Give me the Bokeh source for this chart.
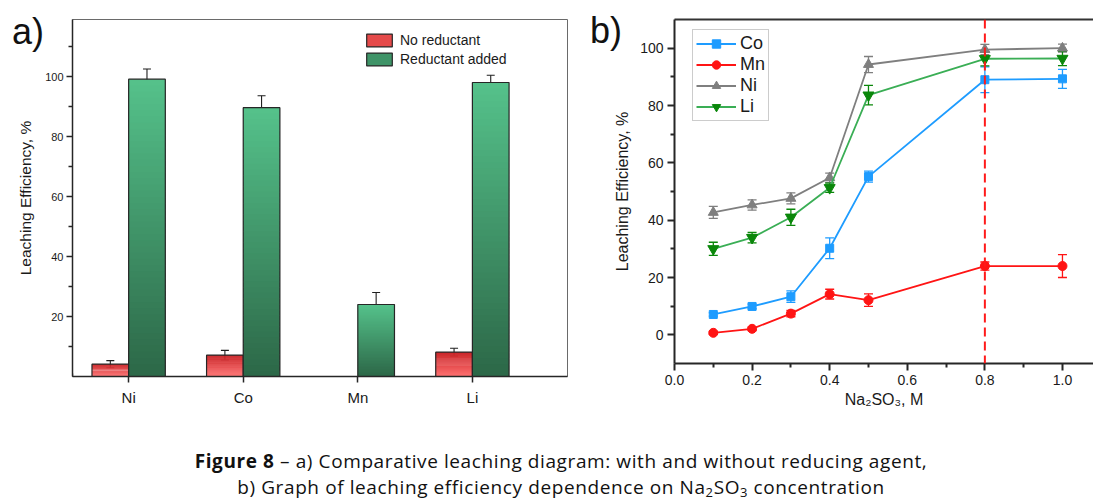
from bokeh.plotting import figure
from bokeh.models import (ColumnDataSource, Whisker, TeeHead, FixedTicker, Legend,
                          LegendItem, Span, LinearAxis, Div, Range1d)
from bokeh.layouts import row, column
from bokeh.embed import file_html
from bokeh.resources import INLINE

# ---------------- data: panel a ----------------
metals = ["Ni", "Co", "Mn", "Li"]
no_reductant = [4.1, 7.1, 0.0, 8.1]
no_reductant_err = [1.2, 1.6, 0.0, 1.3]
reductant_added = [99.1, 89.6, 24.0, 98.0]
reductant_added_err = [3.4, 4.0, 4.0, 2.4]
ya_ticks = [20, 40, 60, 80, 100]
ya_minor = [10, 30, 50, 70, 90, 110]

# ---------------- data: panel b ----------------
conc = [0.1, 0.2, 0.3, 0.4, 0.5, 0.8, 1.0]
co = [7.1, 9.9, 13.3, 30.2, 55.2, 89.0, 89.3]
co_err = [0.6, 0.8, 2.0, 3.6, 1.9, 4.5, 3.3]
mn = [0.7, 2.1, 7.4, 14.2, 12.1, 24.0, 24.0]
mn_err = [0.5, 0.6, 1.1, 1.7, 2.2, 1.4, 4.0]
ni = [42.7, 45.3, 47.6, 54.8, 94.3, 99.5, 100.0]
ni_err = [2.1, 1.8, 1.9, 1.6, 2.8, 1.8, 1.4]
li = [30.0, 33.9, 41.0, 51.3, 83.6, 96.3, 96.4]
li_err = [2.3, 1.8, 2.8, 1.6, 3.4, 2.5, 2.5]
xb_ticks = [0.0, 0.2, 0.4, 0.6, 0.8, 1.0]
xb_minor = [0.1, 0.3, 0.5, 0.7, 0.9]
yb_ticks = [0, 20, 40, 60, 80, 100]
yb_minor = [10, 30, 50, 70, 90]
optimal_conc = 0.8

FONT = "Liberation Sans"
AX = "#262626"


def _rgb(h):
    h = h.lstrip("#")
    return [int(h[i:i + 2], 16) for i in (0, 2, 4)]


def _mix(c0, c1, t):
    a, b = _rgb(c0), _rgb(c1)
    return "#%02x%02x%02x" % tuple(int(round(a[k] + (b[k] - a[k]) * t)) for k in range(3))


def gradient_bars(p, xs, vals, bottom_col, top_col, width, n=48):
    X, B, T, C = [], [], [], []
    for x, v in zip(xs, vals):
        if v <= 0:
            continue
        for i in range(n):
            X.append(x)
            B.append(v * i / n)
            T.append(min(v, v * (i + 1.8) / n))
            C.append(_mix(bottom_col, top_col, (i + 0.5) / n))
    src = ColumnDataSource(dict(x=X, bottom=B, top=T, color=C))
    p.vbar(x="x", bottom="bottom", top="top", width=width, source=src,
           fill_color="color", line_color=None)
    keep = [(x, v) for x, v in zip(xs, vals) if v > 0]
    p.vbar(x=[k[0] for k in keep], top=[k[1] for k in keep], width=width,
           fill_color=None, line_color=AX, line_width=1.2)


def whiskers(p, xs, vals, errs, color, size, lw):
    keep = [(x, v, e) for x, v, e in zip(xs, vals, errs) if v > 0 and e > 0]
    src = ColumnDataSource(dict(x=[k[0] for k in keep],
                                upper=[k[1] + k[2] for k in keep],
                                lower=[k[1] - k[2] for k in keep]))
    w = Whisker(source=src, base="x", upper="upper", lower="lower",
                line_color=color, line_width=lw,
                upper_head=TeeHead(size=size, line_color=color, line_width=lw),
                lower_head=TeeHead(size=size, line_color=color, line_width=lw))
    p.add_layout(w)


def style_axis(ax, tick_size, lw):
    ax.axis_line_color = AX
    ax.axis_line_width = lw
    ax.major_tick_line_color = AX
    ax.major_tick_line_width = lw
    ax.minor_tick_line_color = AX
    ax.minor_tick_line_width = lw
    ax.major_tick_in = 0
    ax.minor_tick_in = 0
    ax.major_label_text_font = FONT
    ax.major_label_text_font_size = tick_size
    ax.major_label_text_color = "#1a1a1a"
    ax.axis_label_text_font = FONT
    ax.axis_label_text_font_style = "normal"
    ax.axis_label_text_color = "#1a1a1a"


# ================= panel a =================
pos = [i + 1 for i in range(len(metals))]
BW = 0.32
pa = figure(frame_width=495, frame_height=357,
            min_border_left=72, min_border_right=11, min_border_top=17, min_border_bottom=46,
            x_range=Range1d(0.51, 4.83), y_range=Range1d(0, 119),
            output_backend="svg", toolbar_location=None)
pa.grid.visible = False
pa.outline_line_color = "#6a6a6a"
pa.outline_line_width = 1

red_x = [x - BW / 2 for x in pos]
green_x = [x + BW / 2 for x in pos]
gradient_bars(pa, red_x, no_reductant, "#ff7373", "#c81f22", BW)
gradient_bars(pa, green_x, reductant_added, "#2c6747", "#55c28b", BW)
whiskers(pa, red_x, no_reductant, no_reductant_err, "#1e1e1e", 8, 1.1)
whiskers(pa, green_x, reductant_added, reductant_added_err, "#1e1e1e", 8, 1.1)

xa = pa.below[0]
ya = pa.left[0]
xa.ticker = FixedTicker(ticks=pos, minor_ticks=[])
xa.major_label_overrides = {float(p_): m for p_, m in zip(pos, metals)}
ya.ticker = FixedTicker(ticks=ya_ticks, minor_ticks=ya_minor)
style_axis(xa, "15px", 1.5)
style_axis(ya, "11px", 1.5)
xa.major_tick_out = 6
xa.major_label_standoff = 6
ya.major_tick_out = 6
ya.minor_tick_out = 4
ya.major_label_standoff = 3
ya.axis_label = "Leaching Efficiency, %"
ya.axis_label_text_font_size = "15.5px"
ya.axis_label_standoff = 8

leg_r1 = pa.vbar(x=[-10], top=[1], width=BW, fill_color="#e54a4a", line_color=AX, line_width=1.2)
leg_r2 = pa.vbar(x=[-10], top=[1], width=BW, fill_color="#3f9468", line_color=AX, line_width=1.2)
leg_a = Legend(items=[LegendItem(label="No reductant", renderers=[leg_r1]),
                      LegendItem(label="Reductant added", renderers=[leg_r2])],
               location=(291, 309), border_line_color=None, background_fill_alpha=0,
               padding=0, margin=0, spacing=3, glyph_width=32, glyph_height=16,
               label_height=16, label_standoff=5, label_text_font=FONT,
               label_text_font_size="14px", label_text_color="#1a1a1a")
pa.add_layout(leg_a)

# ================= panel b =================
pb = figure(frame_width=419, frame_height=344,
            min_border_left=96, min_border_right=0, min_border_top=19, min_border_bottom=57,
            x_range=Range1d(0.0, 1.08), y_range=Range1d(-10, 110),
            output_backend="svg", toolbar_location=None)
pb.grid.visible = False
pb.outline_line_color = None
xb = pb.below[0]
yb = pb.left[0]

top_axis = LinearAxis(ticker=FixedTicker(ticks=[], minor_ticks=[]),
                      major_label_text_font_size="0px", axis_line_color="#333333",
                      axis_line_width=2, major_tick_line_color=None, minor_tick_line_color=None,
                      major_tick_out=0, major_label_standoff=0)
pb.add_layout(top_axis, "above")

series = [
    ("Co", co, co_err, "#1e9cff", "#1e9cff", "square", 8),
    ("Mn", mn, mn_err, "#ff1414", "#ff1414", "circle", 9),
    ("Ni", ni, ni_err, "#7f7f7f", "#7f7f7f", "triangle", 10),
    ("Li", li, li_err, "#3aae55", "#0a870a", "inverted_triangle", 11),
]
items = []
for name, vals, errs, lc, mc, marker, size in series:
    src = ColumnDataSource(dict(x=conc, y=vals))
    lr = pb.line("x", "y", source=src, line_color=lc, line_width=1.8)
    whiskers(pb, conc, vals, errs, mc, 9, 1.3)
    sr = pb.scatter("x", "y", source=src, marker=marker, size=size,
                    fill_color=mc, line_color=mc)
    items.append(LegendItem(label=name, renderers=[lr, sr]))

pb.add_layout(Span(location=optimal_conc, dimension="height", line_color="#ff1a1a",
                   line_dash="9 5", line_width=2))

leg_b = Legend(items=items, location=(18, 242), border_line_color="#9a9a9a",
               border_line_width=1, background_fill_color="white", background_fill_alpha=1,
               padding=3, margin=0, spacing=0, glyph_width=40, glyph_height=21,
               label_height=21, label_standoff=4, label_text_font=FONT,
               label_text_font_size="18px", label_text_color="#1a1a1a")
pb.add_layout(leg_b)

xb.ticker = FixedTicker(ticks=xb_ticks, minor_ticks=xb_minor)
xb.major_label_overrides = {t: "%.1f" % t for t in xb_ticks}
yb.ticker = FixedTicker(ticks=yb_ticks, minor_ticks=yb_minor)
style_axis(xb, "14px", 2)
style_axis(yb, "14px", 2)
for ax in (xb, yb):
    ax.major_tick_out = 7
    ax.minor_tick_out = 4
    ax.major_label_standoff = 4
    ax.axis_label_text_font_size = "16px"
xb.axis_label = "Na\u2082SO\u2083, M"
xb.axis_label_standoff = 3
yb.axis_label = "Leaching Efficiency, %"
yb.axis_label_standoff = 6

# ================= panel letters (overlaid) =================
def panel_letter(txt, left, top):
    html = ('<div style="font-family:\'Liberation Sans\',Arial,sans-serif;font-size:36px;'
            'line-height:36px;color:#111;white-space:nowrap;">%s</div>' % txt)
    return Div(text=html, width=40, height=40,
               styles={"position": "absolute", "left": "%dpx" % left, "top": "%dpx" % top,
                       "z-index": "10"})


lab_a = panel_letter("a)", 7, 9)
lab_b = panel_letter("b)", 585, 8)

# ================= caption =================
sub = '<sub style="font-size:13px;line-height:0;vertical-align:-3px">%s</sub>'
caption_html = (
    '<div style="width:1093px;height:82px;overflow:hidden;box-sizing:border-box;'
    'padding-top:23px;padding-left:19px;text-align:center;font-family:\'Open Sans\',sans-serif;'
    'font-size:19px;letter-spacing:0.6px;line-height:26px;color:#111;">'
    '<b>Figure 8</b> \u2013 a) Comparative leaching diagram: with and without reducing agent,<br>'
    'b) Graph of leaching efficiency dependence on Na' + (sub % "2") + 'SO' + (sub % "3") +
    ' concentration</div>'
)
cap = Div(text=caption_html, width=1093, height=82, styles={"overflow": "hidden"})

layout = column(row(pa, pb), cap, lab_a, lab_b)
open("out.html", "w").write(file_html(layout, INLINE))
